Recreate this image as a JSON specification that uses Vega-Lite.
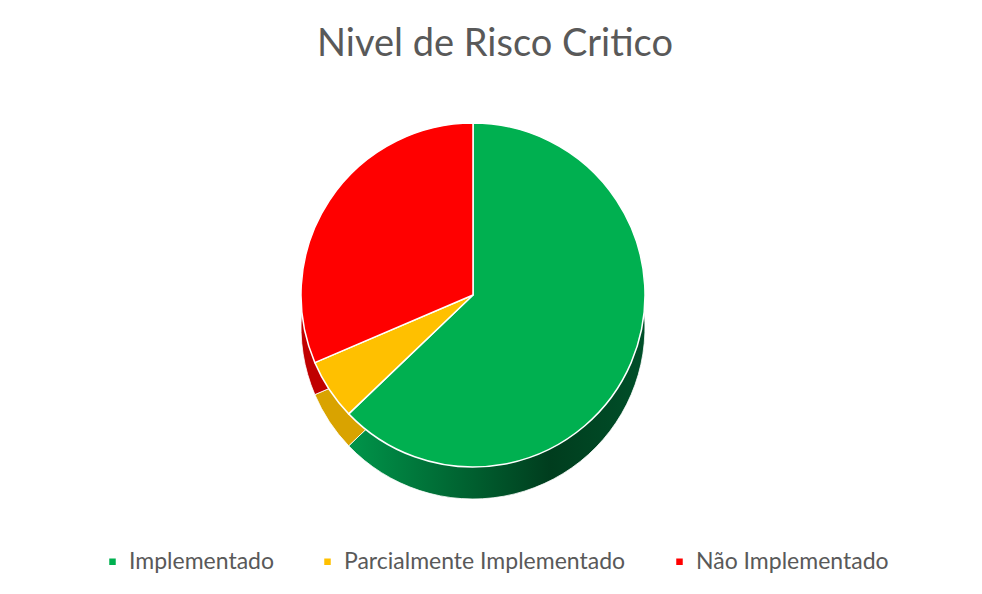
{
  "$schema": "https://vega.github.io/schema/vega-lite/v6.json",
  "width": 982,
  "height": 594,
  "autosize": {"type": "fit", "contains": "padding"},
  "padding": {"left": 8, "top": 26, "right": 0, "bottom": 20},
  "background": "#ffffff",
  "title": {
    "text": "Nivel de Risco Critico",
    "font": "Lato",
    "fontSize": 38,
    "fontWeight": "normal",
    "color": "#595959",
    "anchor": "middle",
    "offset": 28
  },
  "data": {
    "values": [
      {"categoria": "Implementado", "valor": 22, "ordem": 1},
      {"categoria": "Parcialmente Implementado", "valor": 2, "ordem": 2},
      {"categoria": "Não Implementado", "valor": 11, "ordem": 3}
    ]
  },
  "layer": [
    {
      "mark": {"type": "arc", "outerRadius": 172, "xOffset": -22, "yOffset": 16, "stroke": "#ffffff", "strokeWidth": 0.8},
      "encoding": {
        "theta": {"field": "valor", "type": "quantitative", "stack": true},
        "order": {"field": "ordem", "type": "quantitative"},
        "color": {
          "condition": [
            {
              "test": "datum.categoria === 'Implementado'",
              "value": {
                "gradient": "linear",
                "x1": 0, "y1": 0, "x2": 1, "y2": 0,
                "stops": [
                  {"offset": 0, "color": "#00954a"},
                  {"offset": 0.68, "color": "#003d1e"},
                  {"offset": 1, "color": "#004f29"}
                ]
              }
            },
            {"test": "datum.categoria === 'Parcialmente Implementado'", "value": "#d9a300"}
          ],
          "value": "#c00000"
        }
      }
    },
    {
      "mark": {"type": "arc", "outerRadius": 172, "xOffset": -22, "yOffset": -16, "stroke": "#ffffff", "strokeWidth": 1.5},
      "encoding": {
        "theta": {"field": "valor", "type": "quantitative", "stack": true},
        "order": {"field": "ordem", "type": "quantitative"},
        "color": {
          "field": "categoria",
          "type": "nominal",
          "scale": {
            "domain": ["Implementado", "Parcialmente Implementado", "Não Implementado"],
            "range": ["#00b050", "#ffc000", "#ff0000"]
          },
          "legend": {
            "orient": "bottom",
            "direction": "horizontal",
            "title": null,
            "symbolType": "square",
            "symbolSize": 64,
            "labelFont": "Lato",
            "labelFontSize": 23,
            "labelColor": "#595959",
            "labelOffset": 5,
            "labelLimit": 500,
            "columnPadding": 42,
            "offset": 20
          }
        }
      }
    }
  ],
  "config": {
    "view": {"stroke": null},
    "legend": {"layout": {"bottom": {"anchor": "middle"}}}
  }
}
